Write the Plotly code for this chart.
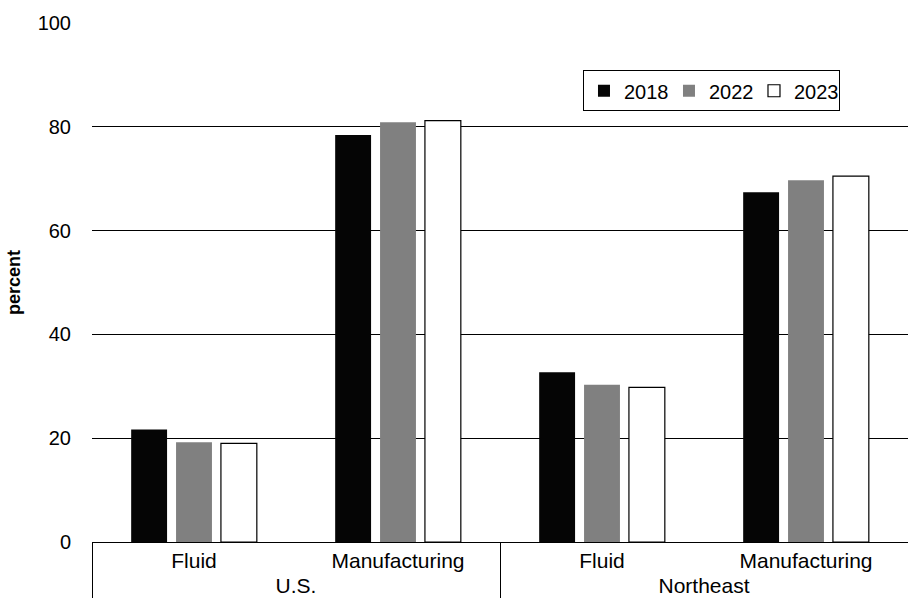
import plotly.graph_objects as go

# Milk utilization shares (percent) by region and class
regions = ["U.S.", "U.S.", "Northeast", "Northeast"]
uses = ["Fluid", "Manufacturing", "Fluid", "Manufacturing"]
years = ["2018", "2022", "2023"]
share_2018 = [21.7, 78.4, 32.7, 67.4]
share_2022 = [19.2, 80.9, 30.3, 69.7]
share_2023 = [19.0, 81.2, 29.8, 70.5]
y_ticks = [0, 20, 40, 60, 80, 100]

series = [share_2018, share_2022, share_2023]
fills = ["#050505", "#808080", "#ffffff"]
edges = ["#050505", "#808080", "#000000"]
edge_widths = [0, 0, 1.2]

fig = go.Figure()
for name, vals, fc, lc, lw in zip(years, series, fills, edges, edge_widths):
    fig.add_trace(go.Bar(
        x=[regions, uses], y=vals, name=name,
        marker=dict(color=fc, line=dict(color=lc, width=lw)),
    ))

font = "Liberation Sans, Arial, sans-serif"
fig.update_layout(
    width=908, height=610,
    margin=dict(l=92, r=0, t=23, b=68, autoexpand=False),
    paper_bgcolor="white", plot_bgcolor="white",
    font=dict(family=font, size=20, color="#000000"),
    barmode="group", bargap=0.34, bargroupgap=0.2,
    showlegend=True,
    legend=dict(
        orientation="h", x=0.6017, y=0.909, xanchor="left", yanchor="top",
        bordercolor="#000000", borderwidth=1, bgcolor="white",
        font=dict(size=20), entrywidth=40, itemwidth=30,
        traceorder="normal",
    ),
    xaxis=dict(
        type="multicategory", showline=True, linecolor="#000000", linewidth=1,
        showdividers=True, dividercolor="#000000", dividerwidth=1,
        ticks="", tickfont=dict(size=21), showgrid=False, automargin=False,
    ),
    yaxis=dict(
        range=[0, 100], tickvals=y_ticks, showgrid=True, gridcolor="#000000",
        gridwidth=1, zeroline=False, showline=False, ticks="",
        ticklabelstandoff=20, tickfont=dict(size=20), automargin=False,
        title=dict(text="<b>percent</b>", font=dict(size=18), standoff=12),
    ),
)

fig.write_html("out.html")
